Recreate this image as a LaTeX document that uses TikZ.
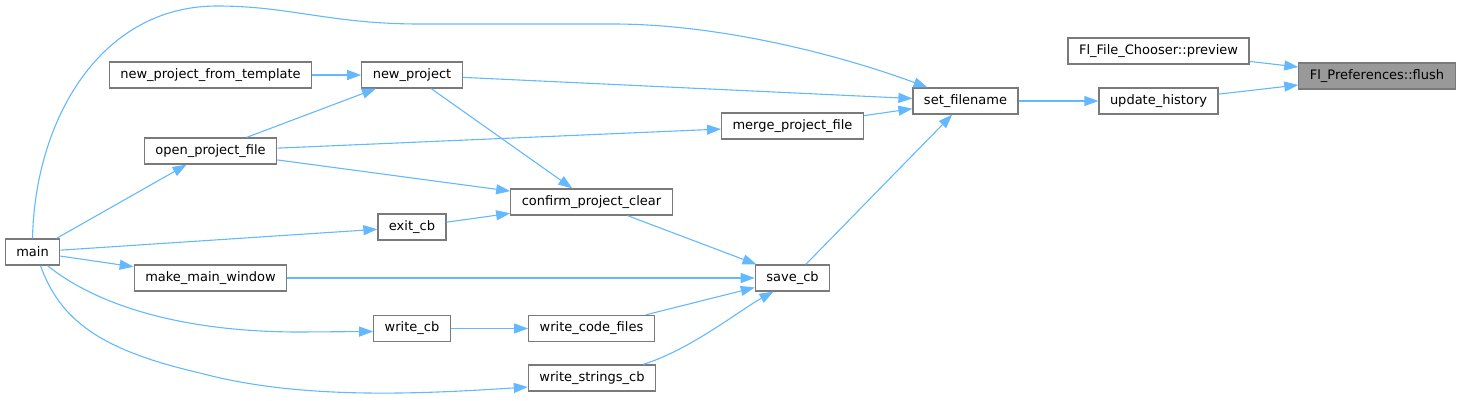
\documentclass[tikz,border=0pt]{standalone}
\usepackage{fontspec}
\setmainfont{DejaVu Sans}
\usetikzlibrary{arrows.meta}
\definecolor{edgeblue}{HTML}{63B8FF}
\definecolor{boxgray}{HTML}{7A7A7A}
\definecolor{hlgray}{HTML}{999999}
\begin{document}
\begin{tikzpicture}[
  x=1pt, y=-1pt,
  fn/.style={draw=boxgray, line width=1.2pt, fill=#1, rectangle,
             minimum height=26pt, inner xsep=11pt, inner ysep=0pt,
             font=\fontsize{13}{15}\selectfont},
  fn/.default=white,
  call/.style={-{Triangle[length=14pt, width=10pt]}, line width=1.1pt,
               draw=edgeblue}
]
  \useasboundingbox (0,0) rectangle (1461,400);

  % Functions, column by column
  \node[fn] (main)   at (32.5,252)  {main};
  \node[fn] (npt)    at (210.5,75)  {new\_project\_from\_template};
  \node[fn] (opf)    at (210.5,151) {open\_project\_file};
  \node[fn] (mmw)    at (210.5,278) {make\_main\_window};
  \node[fn] (np)     at (412,75)    {new\_project};
  \node[fn] (exitcb) at (412,227)   {exit\_cb};
  \node[fn] (wcb)    at (412,328.5) {write\_cb};
  \node[fn] (cpc)    at (591.5,202) {confirm\_project\_clear};
  \node[fn] (wcf)    at (591.5,328.5) {write\_code\_files};
  \node[fn] (wsc)    at (592,378)   {write\_strings\_cb};
  \node[fn] (mpf)    at (792.5,126) {merge\_project\_file};
  \node[fn] (save)   at (792.5,278) {save\_cb};
  \node[fn] (setfn)  at (965.5,101) {set\_filename};
  \node[fn] (uh)     at (1158.5,101) {update\_history};
  \node[fn] (prev)   at (1158.5,51) {Fl\_File\_Chooser::preview};
  \node[fn=hlgray] (flush) at (1377,76) {Fl\_Preferences::flush};

  % Straight calls
  \draw[call] (prev) -- (flush);
  \draw[call] (uh) -- (flush);
  \draw[call] (setfn) -- (uh);
  \draw[call] (np) -- (setfn);
  \draw[call] (mpf) -- (setfn);
  \draw[call] (save) -- (setfn);
  \draw[call] (npt) -- (np);
  \draw[call] (opf) -- (np);
  \draw[call] (np) -- (cpc);
  \draw[call] (opf) -- (mpf);
  \draw[call] (opf) -- (cpc);
  \draw[call] (exitcb) -- (cpc);
  \draw[call] (cpc) -- (save);
  \draw[call] (mmw) -- (save);
  \draw[call] (wcf) -- (save);
  \draw[call] (wcb) -- (wcf);
  \draw[call] (main) -- (opf);
  \draw[call] (main) -- (exitcb);
  \draw[call] (main) -- (mmw);

  % Curved calls
  \draw[call] (main.north) .. controls (35,120) and (100,6) .. (217,6)
    .. controls (290,6) and (330,24) .. (420,24) -- (613,24)
    .. controls (720,24) and (840,55) .. ([xshift=-38pt]setfn.north);
  \draw[call] ([xshift=15pt]main.south) .. controls (90,300) and (170,332)
    .. (300,332) -- ([yshift=-3pt]wcb.west);
  \draw[call] ([xshift=8pt]main.south) .. controls (60,320) and (100,350)
    .. (200,373) .. controls (300,400) and (420,394) .. ([yshift=-9pt]wsc.west);
  \draw[call] ([xshift=51pt]wsc.north) .. controls (690,350) and (740,310)
    .. ([xshift=-19pt]save.south);
\end{tikzpicture}
\end{document}
